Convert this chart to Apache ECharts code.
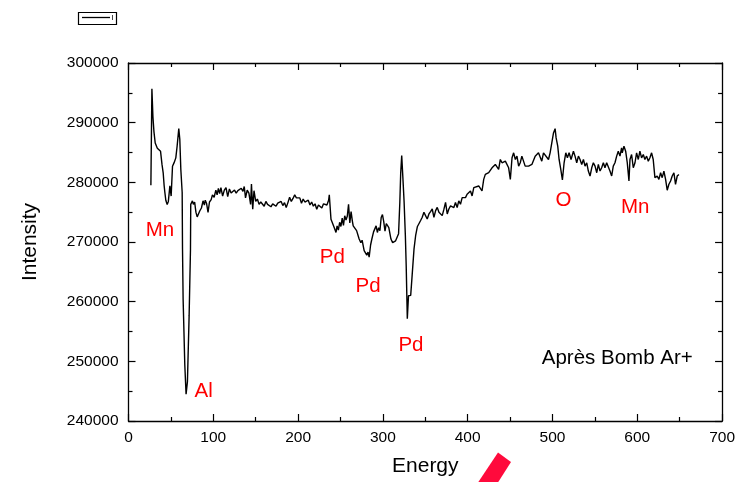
<!DOCTYPE html>
<html>
<head>
<meta charset="utf-8">
<script src="https://cdn.jsdelivr.net/npm/echarts@6/dist/echarts.min.js"></script>
<style>
html,body{margin:0;padding:0;background:#fff;}
#chart{width:738px;height:482px;}
</style>
</head>
<body>
<div id="chart"></div>
<script>
const energy = [
26.4,27.6,28.8,30.0,31.5,33.0,34.0,35.0,36.2,37.8,39.5,40.9,42.0,42.9,44.0,45.6,47.0,48.0,48.8,50.3,
51.9,53.8,55.8,57.3,59.3,60.5,61.7,63.3,63.7,64.4,66.4,67.9,69.5,71.5,73.1,73.4,75.4,76.5,78.0,79.5,
81.0,82.0,84.0,86.0,87.9,89.5,90.5,92.0,93.8,95.5,97.5,99.0,101,103,104.5,106,107.5,109,111,113,
115,117,119,121,123,125,127,129,131,133,135,136.5,138,140,142,144,145,146.5,148,150,
152,154,156,158,160,162,164,166,168,170,172,174,176,178,180,182,184,186,188,190,
192,194,196,198,200,202,204,206,208,210,212,214,216,218,220,222,224,226,228,230,
232,234,236,236.8,238.8,240.5,242.7,244.7,246,247.5,249,250.5,252,253.5,255,256.5,258,259.5,261,262.5,
264,265,267,269,270.5,272,274,275.5,277.9,279.5,281,282.5,283.8,285.5,287,289,290.5,292,293.5,295,
296.5,298,299.5,301,302.5,304,305.5,307,309.5,311.5,313.5,315,317,318.5,320,321,322.2,323.5,325,326.5,
327.5,328.8,330.2,331.5,332.8,334.5,336.7,338.6,340.6,342.5,344.5,346.4,348.4,350.4,352.3,354.3,356.2,358.2,360.2,362.2,
364.1,366.1,368,370,372,373.9,375.9,377.8,379.8,381.7,383.7,385.6,387.6,389.5,391.5,393.5,395.4,397.4,399.3,401.3,
403.3,405.2,407.2,409.1,413,416.9,418.9,420.8,424.8,428.7,432.6,436.5,438.5,440.5,444.4,448.3,450.3,452.3,454.2,456.2,
458.1,460.1,462,463.9,467.8,469.8,471.8,475.7,479.6,481.6,483.5,487.4,489.4,491.4,495.3,497.2,499.2,501.2,503.1,504.3,
506.2,507.8,509.8,511.7,513.7,515.7,517.6,519.6,521.9,524.7,526.6,528.6,530.6,532.5,534.5,536.5,538.4,540.4,542.3,544.3,
546.3,548.2,550.2,552.2,554.1,556.1,558,560,561.9,563.9,565.9,567.8,569.8,571.7,573.7,575.7,577.6,579.6,581.5,582.3,
584.3,586.3,588.2,590.2,591.4,593.3,595.3,597.3,599.2,601.2,603.1,605.1,607.1,609,611,613,614.9,616.9,618.8,620.8,
621.6,623.5,625.5,627.5,629.4,631.4,633.4,635.3,637.3,639.3,641.2,643.2,645.1,647.1,649.1,651
];
const intensity = [
279500,295700,291000,288500,286600,286300,285700,286000,285600,285200,283000,281600,279500,278300,277000,276300,276800,276900,279400,277700,
282700,283300,284100,286000,289000,287200,282200,278300,268800,260500,249400,244500,246600,257700,268800,276300,276900,276300,276700,275000,
274200,274100,275200,275700,276900,276200,277000,276500,274950,276700,277100,277900,277500,278700,277900,279000,278100,279100,277700,278700,
279100,277600,278900,278200,278500,278700,278200,278600,278300,279000,278500,279300,277400,278700,278200,276300,279700,275500,278600,276800,
277200,276300,276700,276400,276000,276800,276300,276600,275900,276400,276700,276000,276500,276200,276800,276100,276600,275800,276600,277500,
276800,277300,277900,277400,277100,277400,276500,277200,276700,276400,277000,276200,276700,276000,276400,275500,276200,276400,275700,276400,
276600,276200,277000,277900,273800,273500,272400,271600,272700,272000,273300,272600,274000,272800,274400,273700,274300,276300,273200,275100,
273500,272700,272900,271900,271700,270500,269900,270300,268550,268600,267800,268300,267450,269500,270500,271700,272200,272700,271600,272400,
271900,274100,274600,273400,271800,273100,273200,272400,270500,269900,270100,270200,269950,271400,276700,281500,284500,281000,276800,271100,
266000,257150,261000,260800,261050,264400,268800,271050,272550,272830,273600,274150,274970,275250,273860,274700,275100,275530,274140,275250,
275800,274970,275250,274420,275500,276640,274700,275530,276060,276330,275780,276610,275780,276890,276330,277440,277170,277440,278000,278000,
278550,277720,279110,278830,279390,278550,280500,281330,281610,282440,283000,282170,283830,283280,283550,282440,280500,284110,284950,
283830,284390,282720,283280,284390,282720,283000,282720,283000,284390,284670,284950,283550,284950,285220,283830,284950,286620,288280,289000,
287450,286060,283830,282170,280390,283280,284950,284110,284950,283830,285220,284390,283280,284390,283830,283000,283830,282720,283280,281890,
281060,282440,283280,282720,281610,283000,281890,282440,283280,282440,283280,283000,281890,281060,282720,283280,284390,285220,284390,285780,
284950,286060,285220,283280,280220,283830,284670,282440,283280,284950,283830,285220,284110,284670,283830,284390,283550,284110,284950,283830,
280780,280500,281060,280500,281610,280780,281890,280500,278670,279670,280220,281060,281610,279670,281060,281330
];
const xTicks = {min: 0, max: 700, interval: 100};
const yTicks = {min: 240000, max: 300000, interval: 10000};
const annoNames = ['Mn','Al','Pd','Pd','Pd','O','Mn','Après Bomb Ar+'];
const annoX = [37, 88.7, 240.3, 282.6, 333.1, 513, 597.5, 576.4];
const annoY = [272000, 245000, 267500, 262500, 252700, 277000, 275800, 250500];
const annoColors = ['#ff0000','#ff0000','#ff0000','#ff0000','#ff0000','#ff0000','#ff0000','#000000'];
const seriesName = 'I';

const lineData = energy.map((e, i) => [e, intensity[i]]);
const annoData = annoNames.map((n, i) => ({
  name: n, value: [annoX[i], annoY[i]],
  label: {color: annoColors[i]}
}));

const FONT = 'Liberation Sans, Arial, sans-serif';
const chart = echarts.init(document.getElementById('chart'), null, {renderer: 'canvas'});
function makeAxis(extra, ticks) {
  const base = {
    type: 'value', min: ticks.min, max: ticks.max, interval: ticks.interval,
    axisLine: {show: true, onZero: false, lineStyle: {color: '#000', width: 1.3}},
    axisTick: {show: true, inside: true, length: 7, lineStyle: {color: '#000', width: 1.2}},
    minorTick: {show: true, splitNumber: 2, length: 4, lineStyle: {color: '#000', width: 1.2}},
    splitLine: {show: false},
    minorSplitLine: {show: false}
  };
  return Object.assign(base, extra);
}
chart.setOption({
  animation: false,
  backgroundColor: '#fff',
  grid: {left: 128.5, right: 14, top: 63, bottom: 59, containLabel: false},
  xAxis: [
    makeAxis({
      position: 'bottom',
      name: 'Energy', nameLocation: 'middle', nameGap: 35,
      nameTextStyle: {fontFamily: FONT, fontSize: 21, color: '#000'},
      axisLabel: {fontFamily: FONT, fontSize: 15.5, color: '#000', margin: 9, formatter: v => String(v)}
    }, xTicks),
    makeAxis({position: 'top', axisLabel: {show: false}}, xTicks)
  ],
  yAxis: [
    makeAxis({
      position: 'left',
      name: 'Intensity', nameLocation: 'middle', nameGap: 88,
      nameTextStyle: {fontFamily: FONT, fontSize: 21, color: '#000'},
      axisLabel: {fontFamily: FONT, fontSize: 15.5, color: '#000', margin: 10, formatter: v => String(v)}
    }, yTicks),
    makeAxis({position: 'right', axisLabel: {show: false}}, yTicks)
  ],
  series: [
    {
      name: seriesName, type: 'line', data: lineData, showSymbol: false, symbol: 'none',
      lineStyle: {color: '#000', width: 1.4}, xAxisIndex: 0, yAxisIndex: 0
    },
    {
      name: 'annotations', type: 'scatter', data: annoData, symbol: 'rect', symbolSize: 1,
      itemStyle: {color: 'rgba(0,0,0,0)', opacity: 1}, silent: true,
      label: {show: true, position: 'inside', formatter: '{b}', fontFamily: FONT, fontSize: 20.5, opacity: 1}
    }
  ],
  graphic: [
    {type: 'rect', shape: {x: 78.5, y: 12.5, width: 38, height: 12}, style: {fill: '#fff', stroke: '#000', lineWidth: 1.2}},
    {type: 'line', shape: {x1: 82, y1: 17.5, x2: 110, y2: 17.5}, style: {stroke: '#000', lineWidth: 1.3}},
    {type: 'text', x: 111.5, y: 13.5, style: {text: seriesName, font: '8px ' + FONT, fill: '#000'}},
    {type: 'polygon', shape: {points: [[498, 452.5], [511, 462], [497, 484], [477, 484]]}, style: {fill: '#ff0a3c'}}
  ]
});
</script>
</body>
</html>
